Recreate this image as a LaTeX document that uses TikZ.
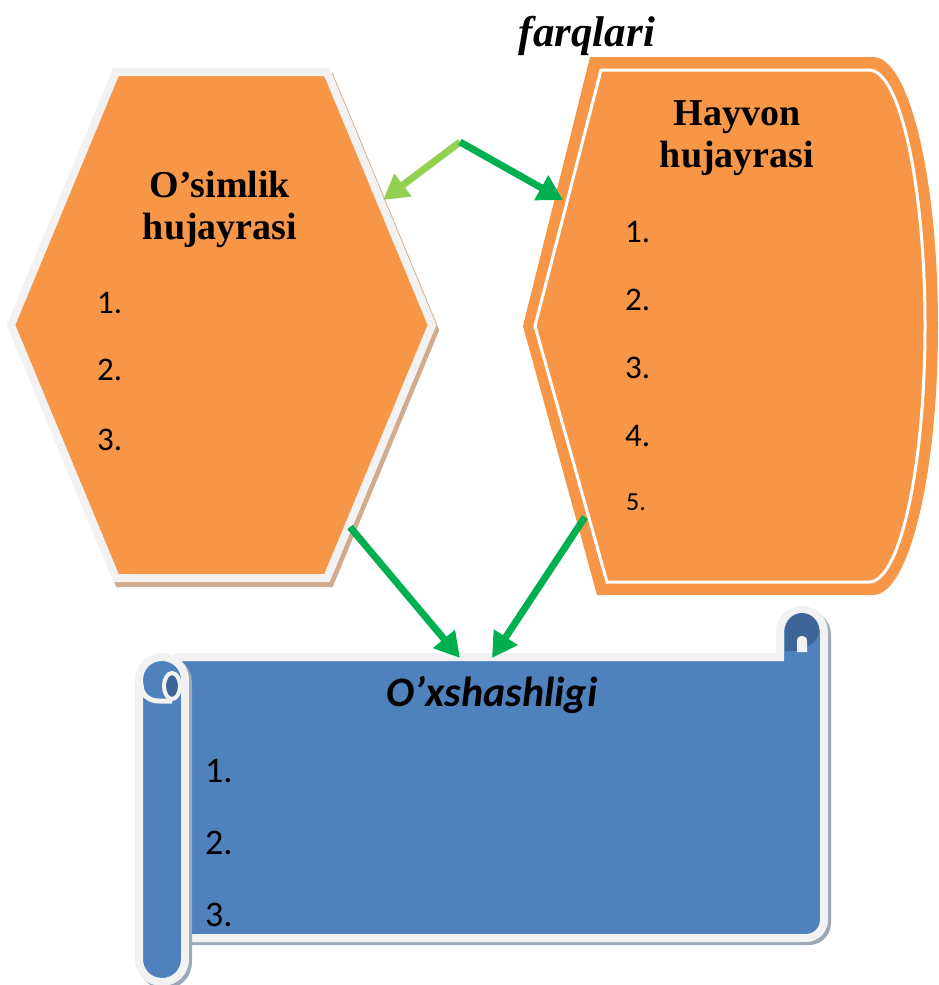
\documentclass[tikz,border=0pt]{standalone}
\usepackage{fontspec}
\setmainfont{Liberation Serif}
\newfontfamily\calib{Carlito}
\usetikzlibrary{arrows.meta,positioning}
\definecolor{cellOrange}{HTML}{F79646}
\definecolor{scrollBlue}{HTML}{4F81BD}
\definecolor{scrollDark}{HTML}{3E6597}
\definecolor{edgeGray}{HTML}{F2F2F2}
\definecolor{shadowTan}{HTML}{D2AA8C}
\definecolor{shadowBlue}{HTML}{9CA8B6}
\definecolor{arrowGreen}{HTML}{00B050}
\definecolor{arrowLime}{HTML}{92D050}

\begin{document}
\begin{tikzpicture}[
  x=1pt, y=-1pt,
  title/.style={
    font=\fontsize{38}{42}\selectfont\bfseries,
    align=center,
    inner sep=0pt
  },
  item/.style={
    font=\calib\fontsize{33}{36}\selectfont,
    anchor=west,
    inner sep=0pt
  },
  hexagon/.style={fill=cellOrange, draw=edgeGray, line width=8pt, line join=miter},
  hexshadow/.style={fill=shadowTan, draw=shadowTan, line width=8pt, line join=miter},
  scrollpart/.style={fill=scrollBlue, draw=edgeGray, line width=8pt},
  scrollshadow/.style={fill=shadowBlue, draw=shadowBlue, line width=8pt},
  arrow/.style={
    -{Triangle[length=25pt,width=27pt]},
    line width=7pt,
    draw=arrowGreen
  },
  lightarrow/.style={arrow, draw=arrowLime}
]
\useasboundingbox (0,0) rectangle (938,985);

% left panel: hexagon
\path[hexshadow, shift={(3,5)}] (116,72) -- (327,72) -- (432,325) -- (327,578) -- (116,578) -- (11,325) -- cycle;
\path[hexagon] (116,72) -- (327,72) -- (432,325) -- (327,578) -- (116,578) -- (11,325) -- cycle;

% right panel: display shape with inner line
\fill[cellOrange] (590,57) -- (873,57)
  .. controls (909,57) and (938,177) .. (938,326)
  .. controls (938,475) and (909,595) .. (873,595)
  -- (597,595) -- (523,326) -- cycle;
\draw[white, line width=3pt] (601,70) -- (869,70)
  .. controls (900,70) and (925,185) .. (925,326)
  .. controls (925,467) and (900,582) .. (869,582)
  -- (607,582) -- (535,326) -- cycle;

% bottom panel: scroll
\path[scrollshadow, shift={(3,3)}] (178,657) -- (780,657) -- (780,632)
  .. controls (780,620) and (790,610) .. (802,610)
  .. controls (814,610) and (824,620) .. (824,632)
  -- (824,920) .. controls (824,930) and (816,938) .. (806,938)
  -- (178,938) -- cycle;
\path[scrollpart] (178,657) -- (780,657) -- (780,632)
  .. controls (780,620) and (790,610) .. (802,610)
  .. controls (814,610) and (824,620) .. (824,632)
  -- (824,920) .. controls (824,930) and (816,938) .. (806,938)
  -- (178,938) -- cycle;
\fill[scrollDark] (802,630) circle (17);
\fill[scrollDark] (785,630) rectangle (800,651);
\fill[edgeGray] (797,652) -- (797,641)
  .. controls (797,634) and (807,634) .. (807,641) -- (807,652) -- cycle;

\path[scrollshadow, shift={(3,3)}] (139,680)
  .. controls (139,667) and (149,657) .. (162,657)
  .. controls (175,657) and (185,667) .. (185,680)
  -- (185,959) .. controls (185,972) and (175,982) .. (162,982)
  .. controls (149,982) and (139,972) .. (139,959) -- cycle;
\path[scrollpart] (139,680)
  .. controls (139,667) and (149,657) .. (162,657)
  .. controls (175,657) and (185,667) .. (185,680)
  -- (185,959) .. controls (185,972) and (175,982) .. (162,982)
  .. controls (149,982) and (139,972) .. (139,959) -- cycle;
\draw[edgeGray, line width=5pt] (141,684) .. controls (141,695) and (149,701) .. (159,701) -- (172,701);
\filldraw[fill=scrollDark, draw=edgeGray, line width=4pt] (172,686) ellipse [x radius=8, y radius=13];

% texts
\node[font=\fontsize{43}{45}\selectfont\bfseries\itshape, inner sep=0pt] (farq) at (587,36) {farqlari};
\node[title] (plant) at (220,209) {O’simlik\\hujayrasi};
\node[title] (animal) at (737,138) {Hayvon\\hujayrasi};
\node[font=\calib\fontsize{42}{44}\selectfont\bfseries\itshape, inner sep=0pt] (same) at (492,695) {O’xshashligi};

\foreach \n/\y in {1/303,2/370,3/440}
  \node[item] (plant\n) at (97,\y) {\n.};
\foreach \n/\y in {1/232,2/300,3/368,4/436}
  \node[item] (animal\n) at (625,\y) {\n.};
\node[item, font=\calib\fontsize{26}{28}\selectfont] (animal5) at (626,502) {5.};
\foreach \n/\y in {1/771,2/843,3/915}
  \node[item, font=\calib\fontsize{36}{38}\selectfont] (same\n) at (205,\y) {\n.};

% connectors
\coordinate (fork) at (460,142);
\coordinate (plantTip) at (383,200);
\coordinate (animalTip) at (563,200);
\coordinate (plantFoot) at (350,527);
\coordinate (animalFoot) at (585,517);
\coordinate (sameLeft) at (460,658);
\coordinate (sameRight) at (492,658);

\draw[lightarrow] (fork) -- (plantTip);
\draw[arrow] (fork) -- (animalTip);
\draw[arrow] (plantFoot) -- (sameLeft);
\draw[arrow] (animalFoot) -- (sameRight);

\end{tikzpicture}
\end{document}
